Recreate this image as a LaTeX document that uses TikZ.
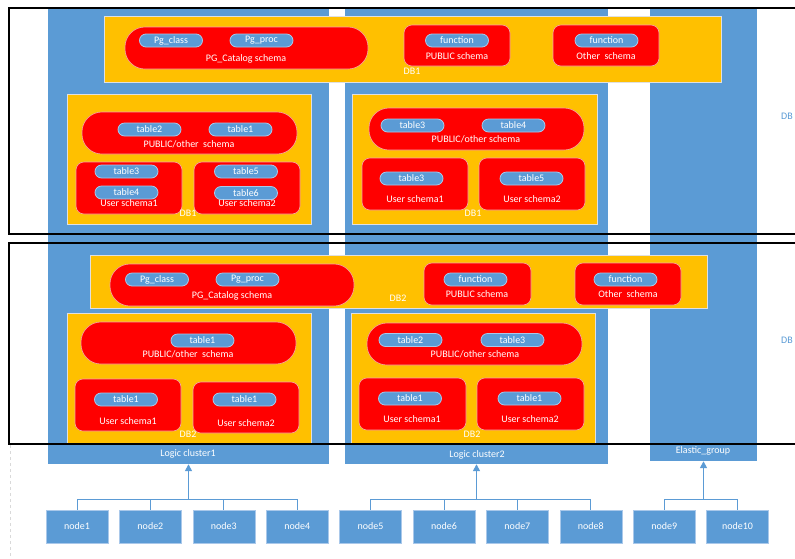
\documentclass[tikz,border=0pt]{standalone}
\usepackage{fontspec}
\setmainfont{Carlito}
\usetikzlibrary{arrows.meta,positioning}
\definecolor{clusterblue}{HTML}{5B9BD5}
\definecolor{dborange}{HTML}{FFC000}
\definecolor{schemared}{HTML}{FF0000}
\definecolor{pillrim}{HTML}{A9C8EA}
\definecolor{redrim}{HTML}{F4A6A6}

\begin{document}
\begin{tikzpicture}[x=1pt, y=-1pt, font=\fontsize{10}{12}\selectfont,
    cluster/.style={fill=clusterblue, inner sep=0pt},
    dbbox/.style={fill=dborange, draw=black!12, line width=0.4pt, inner sep=0pt},
    capsule/.style={fill=schemared, draw=redrim, line width=0.6pt, rounded corners=20pt, inner sep=0pt},
    schemabox/.style={fill=schemared, draw=redrim, line width=0.6pt, rounded corners=8pt, inner sep=0pt},
    pill/.style={fill=clusterblue, draw=pillrim, line width=0.8pt, rounded corners=6.5pt,
      minimum width=63pt, minimum height=13pt, inner sep=0pt, text=white},
    lbl/.style={text=white, inner sep=0pt},
    sidelbl/.style={text=clusterblue, inner sep=0pt, anchor=west},
    hostbox/.style={fill=clusterblue, draw=pillrim, line width=0.6pt,
      minimum width=62pt, minimum height=33pt, inner sep=0pt, text=white},
    dbframe/.style={draw=black, line width=2pt, inner sep=0pt},
    wire/.style={draw=clusterblue, line width=1pt},
    feed/.style={draw=clusterblue, line width=1.5pt, -{Triangle[length=7pt,width=7pt]}},
    sz/.style 2 args={minimum width=#1, minimum height=#2}]
    \useasboundingbox (0,0) rectangle (795,558);
    \clip (0,0) rectangle (795,558);

    \node[cluster, sz={281}{455}] (lc1) at (188.5,236.5) {};
    \node[cluster, sz={263}{455}] (lc2) at (476.5,236.5) {};
    \node[cluster, sz={107}{452}] (eg) at (703.5,235) {};
    \node[lbl] (lc1txt) at (188,454) {Logic cluster1};
    \node[lbl] (lc2txt) at (477,455) {Logic cluster2};
    \node[lbl] (egtxt) at (703,451) {Elastic\_group};

    \foreach \n/\x/\y/\w/\h in {db1top/412.5/49/617/66, db1a/189/159/244/130, db1b/474.5/159/245/130,
        db2top/398.5/281.5/617/53, db2a/189/378.5/244/131, db2b/473/378.5/244/131}
      \node[dbbox, sz={\w}{\h}] (\n) at (\x,\y) {};

    \foreach \n/\x/\y/\w in {cat1/246.5/48/243, po1a/189.5/133/215, po1b/476.5/129/215,
        cat2/232/285/244, po2a/188.5/343/215, po2b/474.5/344/215}
      \node[capsule, sz={\w}{42}] (\n) at (\x,\y) {};

    \foreach \n/\x/\y/\w/\h in {pub1/457/45.5/106/41, oth1/606/45.5/106/41,
        pub2/477.5/284/107/42, oth2/628/284/106/42,
        us1a/129/188/106/52, us2a/247/188/106/52, us1b/415/184/106/52, us2b/532/184/106/52,
        us1c/128/405/106/52, us2c/246/407.5/106/51, us1d/412.5/404/107/52, us2d/530.5/404/107/52}
      \node[schemabox, sz={\w}{\h}] (\n) at (\x,\y) {};

    \foreach \n/\x/\y/\t in {pc1/171/40.5/Pg\_class, pp1/261.5/40.5/Pg\_proc,
        fp1/457/40.5/function, fo1/606.5/40.5/function,
        t2a/149.5/129.5/table2, t1a/240.5/129.5/table1, t3a/126.5/171.5/table3,
        t4a/126.5/192.5/table4, t5a/246/171.5/table5, t6a/246/193/table6,
        t3b/412.5/125.5/table3, t4b/513.5/125.5/table4, t3c/411.5/178.5/table3, t5c/531.5/178.5/table5,
        pc2/157/279.5/Pg\_class, pp2/247.5/279.5/Pg\_proc,
        fp2/475.5/279.5/function, fo2/625.5/279.5/function,
        t1d/202.5/340.5/table1, t1e/126/399.5/table1, t1f/244.5/399.5/table1,
        t2g/410.5/340/table2, t3g/512.5/340/table3, t1h/410/398.5/table1, t1i/529.5/398.5/table1}
      \node[pill] (\n) at (\x,\y) {\t};

    \node[lbl] (cat1txt) at (246,59) {PG\_Catalog schema};
    \node[lbl] (pub1txt) at (457,56) {PUBLIC schema};
    \node[lbl] (oth1txt) at (606,56) {Other\ \ schema};
    \node[lbl] (db1toptxt) at (412,71) {DB1};
    \node[lbl] (po1atxt) at (189,144) {PUBLIC/other\ \ schema};
    \node[lbl] (us1atxt) at (129,203) {User schema1};
    \node[lbl] (us2atxt) at (247,203) {User schema2};
    \node[lbl] (db1atxt) at (188,213) {DB1};
    \node[lbl] (po1btxt) at (476,139) {PUBLIC/other schema};
    \node[lbl] (us1btxt) at (415,199) {User schema1};
    \node[lbl] (us2btxt) at (532,199) {User schema2};
    \node[lbl] (db1btxt) at (473,213) {DB1};
    \node[sidelbl] (side1) at (781,116) {DB};

    \node[lbl] (cat2txt) at (232,296) {PG\_Catalog schema};
    \node[lbl] (db2toptxt) at (398,298) {DB2};
    \node[lbl] (pub2txt) at (477,294) {PUBLIC schema};
    \node[lbl] (oth2txt) at (628,294) {Other\ \ schema};
    \node[lbl] (po2atxt) at (188,354) {PUBLIC/other\ \ schema};
    \node[lbl] (us1ctxt) at (128,421) {User schema1};
    \node[lbl] (us2ctxt) at (246,423) {User schema2};
    \node[lbl] (db2atxt) at (188,434) {DB2};
    \node[lbl] (po2btxt) at (475,354) {PUBLIC/other schema};
    \node[lbl] (us1dtxt) at (412,419) {User schema1};
    \node[lbl] (us2dtxt) at (530,419) {User schema2};
    \node[lbl] (db2btxt) at (472,434) {DB2};
    \node[sidelbl] (side2) at (781,340) {DB};

    \node[dbframe, sz={791}{226}] (frame1) at (404.5,121) {};
    \node[dbframe, sz={791}{201}] (frame2) at (404.5,343.5) {};
    \draw[black!15, dashed] (10,445) -- (10,558);

    \foreach \i in {1,...,10}
      \node[hostbox] (n\i) at ({77+(\i-1)*73.4},526.5) {node\i};
    \coordinate (bus) at (0,499);
    \foreach \i in {1,...,4}
      \draw[wire] (n\i.north) |- (lc1.south |- bus);
    \foreach \i in {5,...,8}
      \draw[wire] (n\i.north) |- (lc2.south |- bus);
    \foreach \i in {9,10}
      \draw[wire] (n\i.north) |- (eg.south |- bus);
    \draw[feed] (lc1.south |- bus) -- (lc1.south);
    \draw[feed] (lc2.south |- bus) -- (lc2.south);
    \draw[feed] (eg.south |- bus) -- (eg.south);
  \end{tikzpicture}
\end{document}
